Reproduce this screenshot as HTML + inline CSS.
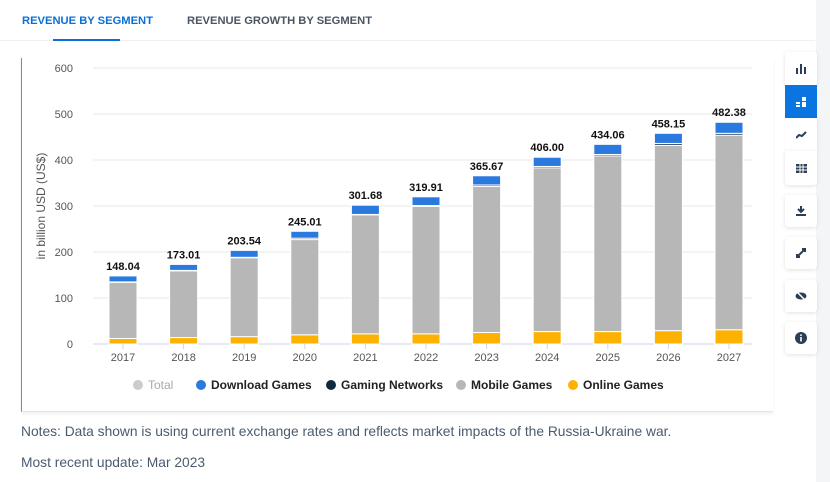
<!DOCTYPE html>
<html><head><meta charset="utf-8"><style>
body{margin:0;width:830px;height:482px;background:#fff;font-family:"Liberation Sans",sans-serif;position:relative;overflow:hidden}
.tabs{position:absolute;left:0;top:0;width:815px;height:40px;border-bottom:1px solid #eef0f3}
.tab{position:absolute;top:15px;font-size:11.2px;font-weight:bold;letter-spacing:0}
.panel{position:absolute;left:21px;top:58px;width:751px;height:353px;border-left:1px solid #888;border-bottom:1px solid #e3e6ea;box-shadow:0 2px 3px rgba(0,0,0,.06)}
.side{position:absolute;right:0;top:0;width:14px;height:482px;background:#f3f5f7}
.btn{position:absolute;left:785px;width:32px;height:32px;background:#fff;box-shadow:0 1px 4px rgba(0,0,0,.12);border-radius:3px;display:flex;align-items:center;justify-content:center}
.note{position:absolute;left:21px;font-size:13.8px;color:#4b5b6e}
</style></head><body>
<div class="side"></div>
<div class="tabs">
<div class="tab" style="left:22px;color:#0a6fd6">REVENUE BY SEGMENT</div>
<div class="tab" style="left:187px;color:#4a5563">REVENUE GROWTH BY SEGMENT</div>
<div style="position:absolute;left:53px;top:39px;width:67px;height:2px;background:#0a6fd6"></div>
</div>
<div class="panel"></div>
<svg id="chart" width="830" height="482" style="position:absolute;left:0;top:0"></svg>
<div class="btn" style="top:52px;height:33px;border-radius:3px 3px 0 0"><svg width="10" height="10"><rect x="0" y="4" width="2" height="6" fill="#2c3e55"/><rect x="4" y="0" width="2" height="10" fill="#2c3e55"/><rect x="8" y="3" width="2" height="7" fill="#2c3e55"/></svg></div>
<div class="btn" style="top:85px;height:33px;background:#0a75e0;border-radius:0;box-shadow:none"><svg width="10" height="10"><rect x="0" y="5" width="4" height="2" fill="#fff"/><rect x="0" y="8" width="4" height="2" fill="#fff"/><rect x="6" y="0" width="4" height="4" fill="#fff"/><rect x="6" y="5" width="4" height="5" fill="#fff"/></svg></div>
<div class="btn" style="top:118px;height:33px;border-radius:0;box-shadow:1px 0 3px rgba(0,0,0,.08)"><svg width="11" height="8"><polyline points="0,7 3,4 6,5 10,1" stroke="#2c3e55" stroke-width="2" fill="none"/></svg></div>
<div class="btn" style="top:151px;height:34px;border-radius:0 0 3px 3px"><svg width="11" height="9"><rect width="11" height="9" fill="#2c3e55"/><path d="M0 3H11M0 6H11M4 0V9M7 0V9" stroke="#fff" stroke-width="1"/></svg></div>
<div class="btn" style="top:195px"><svg width="10" height="10"><path d="M5 0V6M2 3L5 6L8 3" stroke="#2c3e55" stroke-width="2" fill="none"/><rect y="8" width="10" height="2" fill="#2c3e55"/></svg></div>
<div class="btn" style="top:237px"><svg width="10" height="10"><path d="M1 9L9 1M6 1H9V4M1 6V9H4" stroke="#2c3e55" stroke-width="2" fill="none"/></svg></div>
<div class="btn" style="top:280px"><svg width="12" height="10"><ellipse cx="6" cy="5" rx="5.5" ry="3.5" fill="#2c3e55"/><path d="M1 0L11 10" stroke="#fff" stroke-width="1.5"/></svg></div>
<div class="btn" style="top:322px"><svg width="12" height="12"><circle cx="6" cy="6" r="6" fill="#2c3e55"/><rect x="5.2" y="5" width="1.6" height="4.5" fill="#fff"/><circle cx="6" cy="3.2" r="0.9" fill="#fff"/></svg></div>
<div class="note" style="top:424px">Notes: Data shown is using current exchange rates and reflects market impacts of the Russia-Ukraine war.</div>
<div class="note" style="top:455px">Most recent update: Mar 2023</div>
<script>
const years=["2017","2018","2019","2020","2021","2022","2023","2024","2025","2026","2027"];
const online=[12,14,16,20,22,22,25,27,27,29,31];
const mobile=[122,145,171.5,207,258.7,277,317.7,356,382,403,423];
const networks=[1,1,1,3,1,2,3,3,3,4,4];
const download=[13,13,15,15,20,19,20,20,22,22,24];
const totals=["148.04","173.01","203.54","245.01","301.68","319.91","365.67","406.00","434.06","458.15","482.38"];
const yTicks=[0,100,200,300,400,500,600];
const svg=document.getElementById('chart');const NS="http://www.w3.org/2000/svg";
const y0=344,y1=68,x0=93,step=60.6,bw=28;
function Y(v){return y0-(v/600)*(y0-y1);}
function X(i){return 123+i*step;}
function el(t,a){const e=document.createElementNS(NS,t);for(const k in a)e.setAttribute(k,a[k]);svg.appendChild(e);return e;}
yTicks.forEach(v=>{const g=el('line',{x1:x0,x2:752,y1:Y(v),y2:Y(v),stroke:v?'#e6e9ee':'#ccd6eb'});

const t=el('text',{x:73,y:Y(v)+4,'text-anchor':'end','font-size':'11',fill:'#555'});t.textContent=v;
});
const yt=el('text',{transform:'translate(45,206) rotate(-90)','text-anchor':'middle','font-size':'12',fill:'#555'});yt.textContent='in billion USD (US$)';

const series=[[online,'#fdb201','online'],[mobile,'#b7b7b7','mobile'],[networks,'#0f2a40','networks'],[download,'#2a79de','download']];
years.forEach((yr,i)=>{let acc=0;
series.forEach(([arr,c,n])=>{const v=arr[i];const r=el('rect',{x:X(i)-bw/2,y:Y(acc+v),width:bw,height:Math.max(0,Y(acc)-Y(acc+v)),fill:c,stroke:'#fff','stroke-width':'1'});
acc+=v;});
const t=el('text',{x:X(i),y:Y(parseFloat(totals[i]))-6,'text-anchor':'middle','font-size':'11','font-weight':'bold',fill:'#111'});t.textContent=totals[i];

const tk=el('line',{x1:X(i),x2:X(i),y1:y0,y2:y0+5,stroke:'#ccd6eb'});
const xl=el('text',{x:X(i),y:361,'text-anchor':'middle','font-size':'11',fill:'#555'});xl.textContent=yr;
});
const legend=[['Total','#ccc','#aaa',138,'normal'],['Download Games','#2a79de','#222',201,'bold'],['Gaming Networks','#0f2a40','#222',331,'bold'],['Mobile Games','#b7b7b7','#222',461,'bold'],['Online Games','#fdb201','#222',573,'bold']];
legend.forEach(([l,c,tc,x,w])=>{const cc=el('circle',{cx:x,cy:385,r:5,fill:c});
const t=el('text',{x:x+10,y:389,'font-size':'12','font-weight':w,fill:tc});t.textContent=l;
});
</script>
</body></html>
